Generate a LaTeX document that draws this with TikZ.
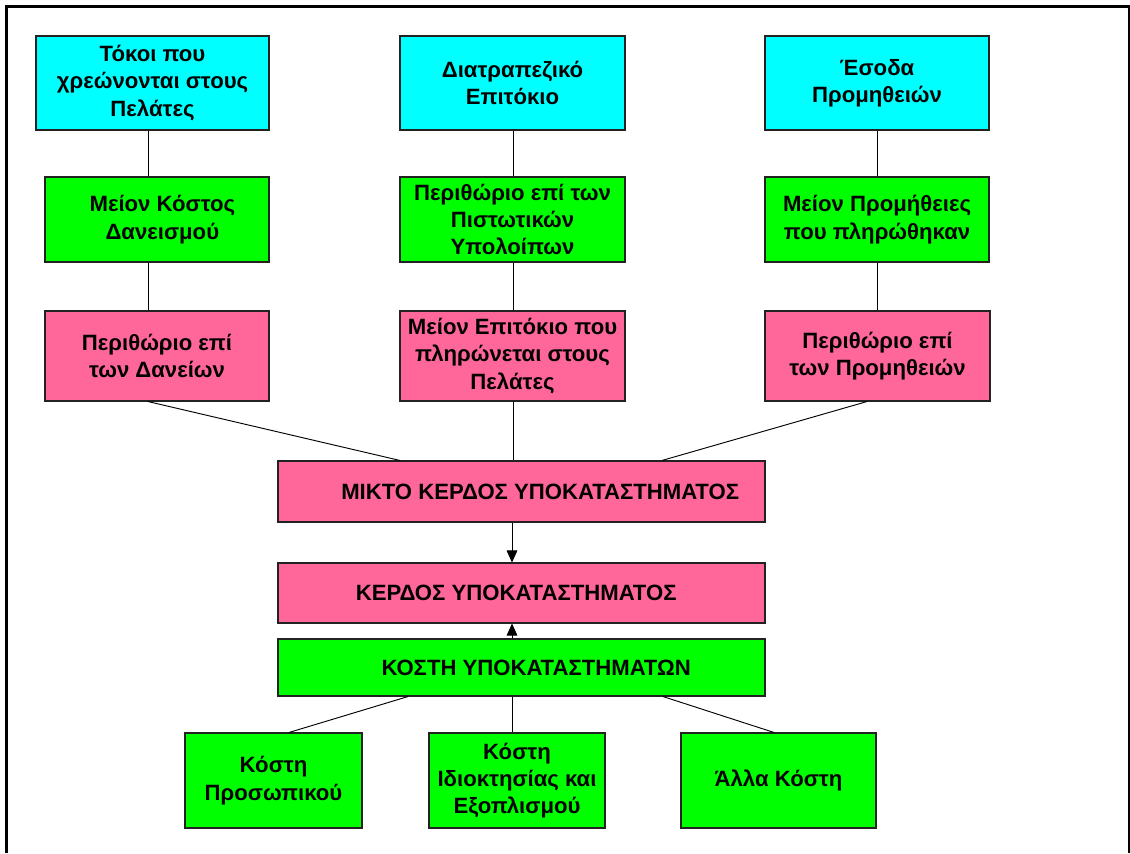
\documentclass[tikz,border=0pt]{standalone}
\usepackage{fontspec}
\setmainfont{Liberation Sans}
\usetikzlibrary{arrows.meta}
\definecolor{topcyan}{HTML}{00FFFF}
\definecolor{midgreen}{HTML}{00FF00}
\definecolor{rosepink}{HTML}{FF6699}
\definecolor{boxedge}{HTML}{222222}
\begin{document}
\begin{tikzpicture}[x=0.75pt,y=-0.75pt,
  font=\fontsize{16.6pt}{20.5pt}\selectfont\bfseries,
  box/.style={draw=boxedge,line width=0.8pt,inner sep=0pt,align=center,
    minimum height=#1*0.75pt},
  cyanbox/.style={box=94,fill=topcyan},
  greenbox/.style={box=85,fill=midgreen},
  pinkbox/.style={box=90,fill=rosepink},
  wide/.style={box=#1,minimum width=487*0.75pt},
  costbox/.style={box=95,fill=midgreen},
  link/.style={draw=black,line width=0.7pt},
  flow/.style={link,-{Triangle[length=9pt,width=8pt]}}]
\useasboundingbox (0,0) rectangle (1130,853);

% outer frame (its lower edge lies below the page)
\draw[line width=1.6pt] (6.5,853) -- (6.5,6.5) -- (1129,6.5) -- (1129,853);

% column positions of the vertical links
\coordinate (colA) at (148,0);
\coordinate (colB) at (513,0);
\coordinate (colC) at (877,0);

% top row: revenue sources
\node[cyanbox,minimum width=233*0.75pt] (c1) at (152.5,83) {Τόκοι που\\χρεώνονται στους\\Πελάτες};
\node[cyanbox,minimum width=225*0.75pt] (c2) at (512.5,83) {Διατραπεζικό\\Επιτόκιο};
\node[cyanbox,minimum width=224*0.75pt] (c3) at (877,83) {Έσοδα\\Προμηθειών};

% second row: deductions
\node[greenbox,minimum width=224*0.75pt] (g1) at (157,219.5) {\hspace*{8pt}Μείον Κόστος\\\hspace*{8pt}Δανεισμού};
\node[greenbox,minimum width=225*0.75pt] (g2) at (512.5,219.5) {Περιθώριο επί των\\Πιστωτικών\\Υπολοίπων};
\node[greenbox,minimum width=224*0.75pt] (g3) at (877,219.5) {Μείον Προμήθειες\\που πληρώθηκαν};

% third row: margins
\node[pinkbox,minimum width=224*0.75pt] (p1) at (157,356) {Περιθώριο επί\\των Δανείων};
\node[pinkbox,minimum width=225*0.75pt] (p2) at (512.5,356) {Μείον Επιτόκιο που\\πληρώνεται στους\\Πελάτες};
\node[pinkbox,minimum width=225*0.75pt] (p3) at (877.5,356) {Περιθώριο επί\\των Προμηθειών};

% central chain
\node[wide=61,fill=rosepink] (mix) at (521.5,491.5) {\hspace*{28pt}ΜΙΚΤΟ ΚΕΡΔΟΣ ΥΠΟΚΑΤΑΣΤΗΜΑΤΟΣ};
\node[wide=60,fill=rosepink] (prof) at (521.5,593) {ΚΕΡΔΟΣ ΥΠΟΚΑΤΑΣΤΗΜΑΤΟΣ\hspace*{8pt}};
\node[wide=57,fill=midgreen] (cost) at (521.5,667.5) {\hspace*{22pt}ΚΟΣΤΗ ΥΠΟΚΑΤΑΣΤΗΜΑΤΩΝ};

% bottom row: cost components
\node[costbox,minimum width=177*0.75pt] (b1) at (273.5,780.5) {Κόστη\\Προσωπικού};
\node[costbox,minimum width=176*0.75pt] (b2) at (517,780.5) {Κόστη\\Ιδιοκτησίας και\\Εξοπλισμού};
\node[costbox,minimum width=195*0.75pt] (b3) at (778.5,780.5) {Άλλα Κόστη};

% vertical links in the three columns
\draw[link] (c1.south -| colA) -- (g1.north -| colA);
\draw[link] (g1.south -| colA) -- (p1.north -| colA);
\draw[link] (c2.south -| colB) -- (g2.north -| colB);
\draw[link] (g2.south -| colB) -- (p2.north -| colB);
\draw[link] (c3.south -| colC) -- (g3.north -| colC);
\draw[link] (g3.south -| colC) -- (p3.north -| colC);

% margins into gross profit
\draw[link] (p1.south -| colA) -- ([xshift=-121.5*0.75pt]mix.north);
\draw[link] (p2.south -| colB) -- (mix.north -| colB);
\draw[link] ([xshift=-10.5*0.75pt]p3.south) -- ([xshift=140.5*0.75pt]mix.north);

% arrows into branch profit
\draw[flow] ([xshift=-9.5*0.75pt]mix.south) -- ([xshift=-9.5*0.75pt]prof.north);
\draw[flow] ([xshift=-9.5*0.75pt]cost.north) -- ([xshift=-9.5*0.75pt]prof.south);

% cost components into branch costs
\draw[link] ([xshift=-113.5*0.75pt]cost.south) -- ([xshift=15.5*0.75pt]b1.north);
\draw[link] ([xshift=-9.5*0.75pt]cost.south) -- ([xshift=-5*0.75pt]b2.north);
\draw[link] ([xshift=141.5*0.75pt]cost.south) -- ([xshift=-4.5*0.75pt]b3.north);
\end{tikzpicture}
\end{document}
